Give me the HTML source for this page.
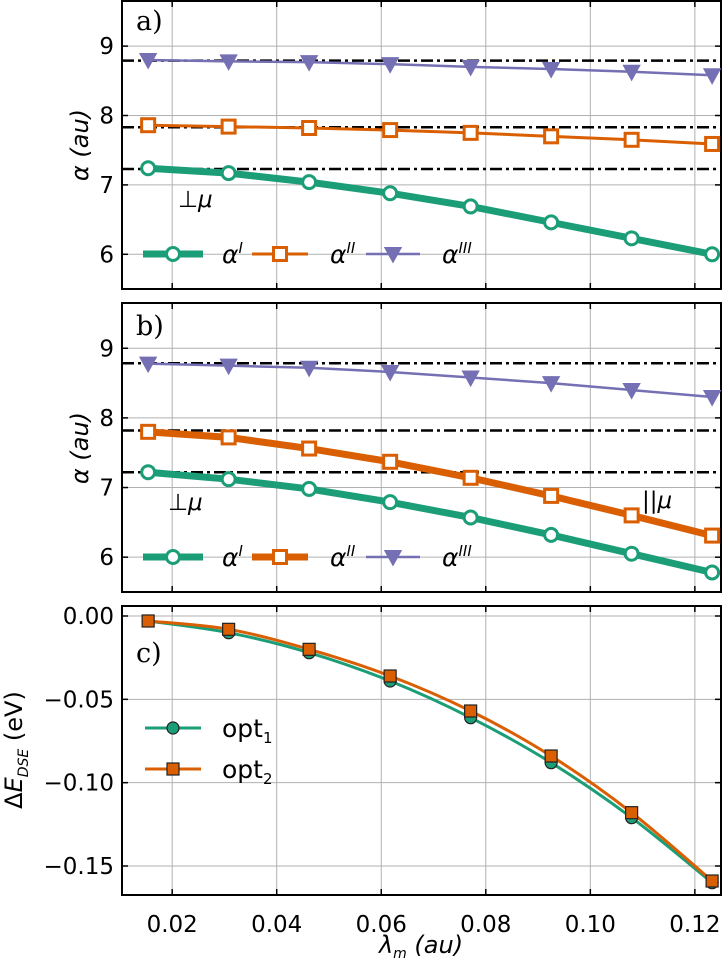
<!DOCTYPE html>
<html><head><meta charset="utf-8">
<style>
html,body{margin:0;padding:0;background:#fff;}
svg{display:block;font-family:"DejaVu Sans","Liberation Sans",sans-serif;}
</style></head>
<body>
<svg id="fig" width="723" height="960" viewBox="0 0 723 960" xmlns="http://www.w3.org/2000/svg"></svg>
<script>
const lambdas = [0.0154,0.0308,0.0462,0.0617,0.0771,0.0925,0.1079,0.1233];
const xTicks = [0.02,0.04,0.06,0.08,0.10,0.12];
const xTickLabels = ["0.02","0.04","0.06","0.08","0.10","0.12"];
const alphaTicks = [6,7,8,9];
const alphaTickLabels = ["6","7","8","9"];
const aAlphaI = [7.24,7.17,7.04,6.88,6.69,6.46,6.23,6.00];
const aAlphaII = [7.86,7.84,7.82,7.79,7.75,7.70,7.65,7.59];
const aAlphaIII = [8.80,8.78,8.77,8.74,8.70,8.67,8.63,8.58];
const aRefs = [8.79,7.83,7.23];
const bAlphaI = [7.22,7.12,6.98,6.79,6.57,6.32,6.05,5.78];
const bAlphaII = [7.80,7.72,7.56,7.37,7.14,6.88,6.60,6.31];
const bAlphaIII = [8.78,8.75,8.72,8.66,8.58,8.50,8.40,8.30];
const bRefs = [8.785,7.82,7.22];
const cOpt1 = [-0.003,-0.010,-0.022,-0.039,-0.061,-0.088,-0.121,-0.160];
const cOpt2 = [-0.003,-0.008,-0.020,-0.036,-0.057,-0.084,-0.118,-0.159];
const cTicks = [0,-0.05,-0.10,-0.15];
const cTickLabels = ["0.00","\u22120.05","\u22120.10","\u22120.15"];

const G="#1b9e77",O="#d95f02",P="#7570b3";
const NS="http://www.w3.org/2000/svg";
const svg=document.getElementById('fig');
function el(tag,attrs,parent){const e=document.createElementNS(NS,tag);for(const k in attrs)e.setAttribute(k,attrs[k]);(parent||svg).appendChild(e);return e;}

const L=122,R=721;
const xmin=0.0104,xmax=0.1250;
function X(v){return L+(v-xmin)/(xmax-xmin)*(R-L);}

function makeAxes(top,bot,ymin,ymax,yt,ytl,name,showX){
  const g=el('g',{});
  
  
  const Y=v=>bot-(v-ymin)/(ymax-ymin)*(bot-top);
  xTicks.forEach((t,i)=>{
    const x=X(t);
    const gl=el('line',{x1:x,x2:x,y1:top,y2:bot,stroke:'#b0b0b0','stroke-width':1},g);
    
    el('line',{x1:x,x2:x,y1:bot,y2:bot-6,stroke:'#000','stroke-width':1.5},g);
    el('line',{x1:x,x2:x,y1:top,y2:top+6,stroke:'#000','stroke-width':1.5},g);
    if(showX){const tx=el('text',{x:x,y:bot+37,'font-size':23,'text-anchor':'middle'},g);tx.textContent=xTickLabels[i];
      }
  });
  yt.forEach((t,i)=>{
    const y=Y(t);
    const gl=el('line',{x1:L,x2:R,y1:y,y2:y,stroke:'#b0b0b0','stroke-width':1},g);
    
    el('line',{x1:L,x2:L+6,y1:y,y2:y,stroke:'#000','stroke-width':1.5},g);
    el('line',{x1:R,x2:R-6,y1:y,y2:y,stroke:'#000','stroke-width':1.5},g);
    const tx=el('text',{x:L-8,y:y+8,'font-size':23,'text-anchor':'end'},g);tx.textContent=ytl[i];
    
  });
  const fr=el('rect',{x:L,y:top,width:R-L,height:bot-top,fill:'none',stroke:'#000','stroke-width':2},g);
  
  return Y;
}
function refLine(Y,v){const l=el('line',{x1:L,x2:R,y1:Y(v),y2:Y(v),stroke:'#000','stroke-width':2.5,'stroke-dasharray':'12 4 3 4'});
  }
function marker(type,x,y,color,fill,size){
  let m;
  if(type==='o')m=el('circle',{cx:x,cy:y,r:size,fill:fill,stroke:color,'stroke-width':3});
  else if(type==='s')m=el('rect',{x:x-size,y:y-size,width:2*size,height:2*size,fill:fill,stroke:color,'stroke-width':3});
  else m=el('path',{d:`M${x-size} ${y-size*0.8} L${x+size} ${y-size*0.8} L${x} ${y+size}Z`,fill:fill,stroke:color,'stroke-width':2});
  return m;
}
function series(Y,vals,color,lw,type,msize,mfill,name,smooth){
  let d='';
  const pts=vals.map((v,i)=>[X(lambdas[i]),Y(v)]);
  if(smooth){
    d=`M${pts[0][0]} ${pts[0][1]}`;
    for(let i=0;i<pts.length-1;i++){
      const p0=pts[Math.max(0,i-1)],p1=pts[i],p2=pts[i+1],p3=pts[Math.min(pts.length-1,i+2)];
      d+=` C${p1[0]+(p2[0]-p0[0])/6} ${p1[1]+(p2[1]-p0[1])/6} ${p2[0]-(p3[0]-p1[0])/6} ${p2[1]-(p3[1]-p1[1])/6} ${p2[0]} ${p2[1]}`;
    }
  } else d=pts.map((p,i)=>(i?'L':'M')+p[0]+' '+p[1]).join(' ');
  const ln=el('path',{d:d,fill:'none',stroke:color,'stroke-width':lw,'stroke-linejoin':'round'});
  
  pts.forEach(p=>{const m=marker(type,p[0],p[1],type==='^'?color:(mfill==='#fff'?color:'#000'),mfill,msize);
    if(mfill!=='#fff'&&type!=='^'){m.setAttribute('stroke','#222');m.setAttribute('stroke-width',1.2);}
    });
}
function txt(x,y,s,size,name,extra){const t=el('text',Object.assign({x:x,y:y,'font-size':size},extra||{}));t.innerHTML=s;
  return t;}
function legendEntry(x1,x2,y,color,lw,type,ms,mfill,label,lx,name){
  const l=el('line',{x1:x1,x2:x2,y1:y,y2:y,stroke:color,'stroke-width':lw});
  
  const m=marker(type,(x1+x2)/2,y,type==='^'?color:(mfill==='#fff'?color:'#222'),mfill,ms);
  if(mfill!=='#fff'&&type!=='^')m.setAttribute('stroke-width',1.2);
  
  txt(lx,y+9,label,25,name+'-label');
}
function alphaLegend(y,oLw){
  legendEntry(143,203,y,G,7,'o',6.5,'#fff','<tspan font-style="italic">α</tspan><tspan font-size="15" dy="-10" font-style="italic">I</tspan>',222,'legend-alpha-i');
  legendEntry(252,308,y,O,oLw,'s',6.5,'#fff','<tspan font-style="italic">α</tspan><tspan font-size="15" dy="-10" font-style="italic">II</tspan>',330,'legend-alpha-ii');
  legendEntry(366,420,y,P,2.5,'^',7.5,P,'<tspan font-style="italic">α</tspan><tspan font-size="15" dy="-10" font-style="italic">III</tspan>',442,'legend-alpha-iii');
}

// Panel a
let Ya=makeAxes(1,289,5.5,9.65,alphaTicks,alphaTickLabels,'panel-a',false);
aRefs.forEach(v=>refLine(Ya,v));
series(Ya,aAlphaIII,P,2.5,'^',7.5,P,'a-alpha-iii');
series(Ya,aAlphaII,O,3,'s',6.5,'#fff','a-alpha-ii');
series(Ya,aAlphaI,G,7,'o',6.5,'#fff','a-alpha-i');
alphaLegend(254,3);
txt(136,30,'a)',27,'panel-a-label',{'font-family':'DejaVu Serif, Liberation Serif, serif'});
txt(178,207,'⊥<tspan font-style="italic">μ</tspan>',23,'perp-mu-label-a');
txt(88,145,'<tspan font-style="italic">α</tspan> <tspan font-style="italic">(au)</tspan>',24,'y-axis-title-a',{transform:'rotate(-90 88 145)','text-anchor':'middle'});

// Panel b
let Yb=makeAxes(303,592,5.5,9.65,alphaTicks,alphaTickLabels,'panel-b',false);
bRefs.forEach(v=>refLine(Yb,v));
series(Yb,bAlphaIII,P,2.5,'^',7.5,P,'b-alpha-iii');
series(Yb,bAlphaII,O,7,'s',6.5,'#fff','b-alpha-ii');
series(Yb,bAlphaI,G,7,'o',6.5,'#fff','b-alpha-i');
alphaLegend(557,7);
txt(136,335,'b)',27,'panel-b-label',{'font-family':'DejaVu Serif, Liberation Serif, serif'});
txt(168,510,'⊥<tspan font-style="italic">μ</tspan>',23,'perp-mu-label-b');
txt(642,508,'||<tspan font-style="italic">μ</tspan>',23,'parallel-mu-label');
txt(88,448,'<tspan font-style="italic">α</tspan> <tspan font-style="italic">(au)</tspan>',24,'y-axis-title-b',{transform:'rotate(-90 88 448)','text-anchor':'middle'});

// Panel c
let Yc=makeAxes(606,895,-0.1674,0.006,cTicks,cTickLabels,'panel-c',true);
series(Yc,cOpt1,G,3,'o',6,G,'c-opt1',true);
series(Yc,cOpt2,O,3,'s',6,O,'c-opt2',true);
legendEntry(145,201,728,G,3,'o',6,G,'opt<tspan font-size="15" dy="6">1</tspan>',222,'legend-opt1');
legendEntry(145,201,769,O,3,'s',6,O,'opt<tspan font-size="15" dy="6">2</tspan>',222,'legend-opt2');
txt(136,662,'c)',27,'panel-c-label',{'font-family':'DejaVu Serif, Liberation Serif, serif'});
txt(22,750,'Δ<tspan font-style="italic">E</tspan><tspan font-size="14" dy="6" font-style="italic">DSE</tspan><tspan dy="-6"> (eV)</tspan>',24,'y-axis-title-c',{transform:'rotate(-90 22 750)','text-anchor':'middle'});
txt(421,953,'<tspan font-style="italic">λ</tspan><tspan font-size="14" dy="5" font-style="italic">m</tspan><tspan dy="-5" font-style="italic"> (au)</tspan>',24,'x-axis-title',{'text-anchor':'middle'});
</script>
</body></html>
